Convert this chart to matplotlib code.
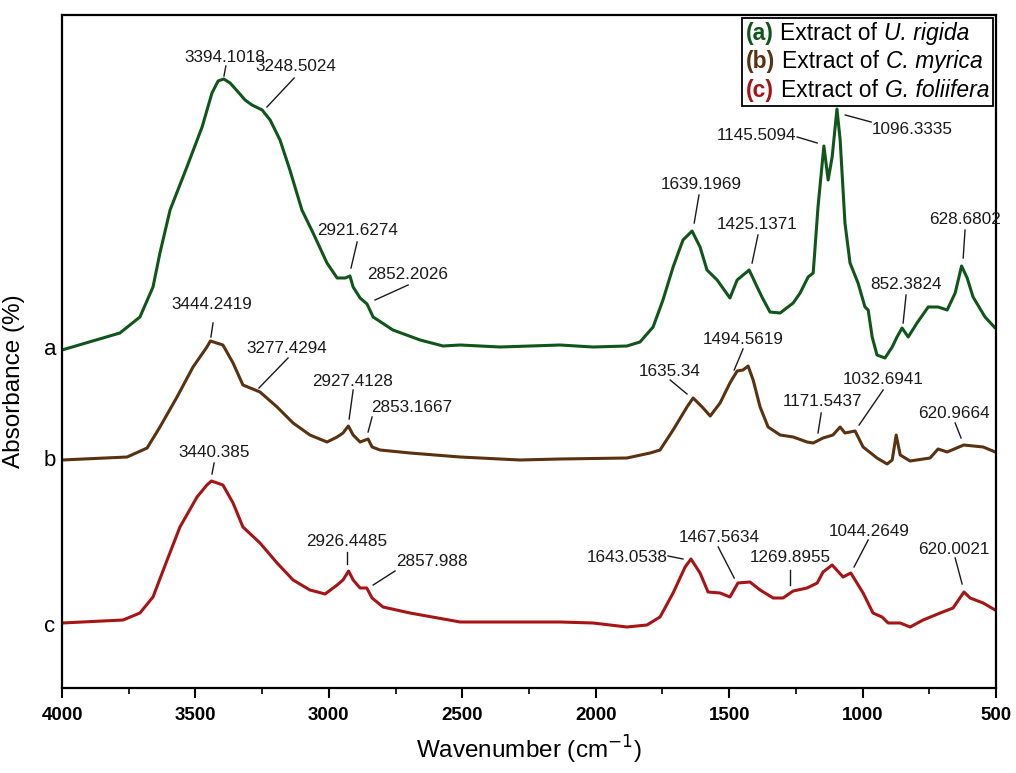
import matplotlib
matplotlib.use("Agg")
import matplotlib.pyplot as plt
from matplotlib.ticker import MultipleLocator
from matplotlib.offsetbox import TextArea, HPacker, VPacker, AnchoredOffsetbox
import matplotlib.transforms as mtransforms

plt.rcParams['font.family'] = ['Liberation Sans', 'DejaVu Sans']

# ---------------- data (wavenumber cm^-1, absorbance a.u. with offsets) ----------------
wn_a = [4000, 3783, 3708, 3659, 3633, 3595, 3532, 3475, 3438, 3415, 3394, 3370, 3340, 3314,
        3288, 3250, 3220, 3183, 3146, 3101, 3059, 3007, 2969, 2939, 2921, 2909, 2883, 2857,
        2834, 2760, 2658, 2572, 2508, 2358, 2134, 2010, 1883, 1834, 1785, 1748, 1710, 1673,
        1639, 1609, 1583, 1545, 1497, 1470, 1425, 1395, 1377, 1347, 1309, 1260, 1234, 1204,
        1185, 1167, 1145, 1129, 1114, 1096, 1084, 1066, 1047, 1017, 991, 979, 964, 946, 916,
        889, 871, 852, 829, 796, 754, 717, 683, 653, 629, 608, 586, 541, 503]
ab_a = [3.38, 3.55, 3.71, 4.01, 4.35, 4.78, 5.21, 5.61, 5.95, 6.07, 6.09, 6.05, 5.96, 5.88,
        5.83, 5.78, 5.68, 5.48, 5.18, 4.78, 4.55, 4.25, 4.10, 4.10, 4.12, 4.01, 3.90, 3.84,
        3.71, 3.58, 3.48, 3.42, 3.43, 3.41, 3.43, 3.41, 3.42, 3.46, 3.61, 3.88, 4.21, 4.48,
        4.57, 4.41, 4.18, 4.08, 3.90, 4.08, 4.18, 4.01, 3.91, 3.76, 3.75, 3.85, 3.95, 4.11,
        4.15, 4.81, 5.42, 5.08, 5.31, 5.79, 5.48, 4.65, 4.25, 4.05, 3.81, 3.78, 3.51, 3.33, 3.30,
        3.41, 3.51, 3.60, 3.51, 3.65, 3.81, 3.81, 3.78, 3.95, 4.22, 4.10, 3.91, 3.71, 3.60]

wn_b = [4000, 3756, 3681, 3633, 3569, 3509, 3457, 3444, 3397, 3359, 3322, 3258, 3194, 3134,
        3071, 3007, 2969, 2947, 2927, 2909, 2883, 2853, 2838, 2808, 2696, 2508, 2284, 2134,
        1883, 1796, 1759, 1710, 1658, 1635, 1601, 1571, 1534, 1497, 1470, 1448, 1429, 1410,
        1384, 1354, 1309, 1260, 1208, 1185, 1148, 1111, 1084, 1066, 1028, 998, 946, 908, 889,
        874, 859, 822, 747, 717, 683, 621, 548, 503]
ab_b = [2.28, 2.31, 2.40, 2.61, 2.91, 3.21, 3.41, 3.47, 3.43, 3.25, 3.03, 2.96, 2.81, 2.65,
        2.53, 2.46, 2.51, 2.55, 2.62, 2.53, 2.46, 2.49, 2.41, 2.38, 2.35, 2.31, 2.28, 2.29,
        2.30, 2.35, 2.38, 2.58, 2.81, 2.90, 2.81, 2.72, 2.85, 3.05, 3.17, 3.18, 3.22, 3.08,
        2.81, 2.61, 2.53, 2.51, 2.46, 2.45, 2.50, 2.53, 2.61, 2.55, 2.57, 2.41, 2.30, 2.24, 2.28,
        2.53, 2.33, 2.27, 2.30, 2.39, 2.36, 2.43, 2.41, 2.36]

wn_c = [4000, 3771, 3708, 3659, 3606, 3558, 3494, 3457, 3440, 3397, 3359, 3322, 3258, 3194,
        3134, 3071, 3014, 2969, 2947, 2926, 2909, 2883, 2858, 2838, 2797, 2696, 2508, 2134,
        2010, 1883, 1808, 1759, 1710, 1665, 1643, 1609, 1579, 1534, 1497, 1467, 1422, 1384,
        1335, 1298, 1260, 1208, 1170, 1148, 1114, 1073, 1044, 998, 961, 927, 904, 859, 822,
        773, 709, 661, 620, 597, 548, 503]
ab_c = [0.65, 0.68, 0.75, 0.91, 1.28, 1.61, 1.91, 2.03, 2.07, 2.03, 1.85, 1.61, 1.45, 1.25,
        1.08, 0.98, 0.94, 1.03, 1.08, 1.17, 1.08, 1.00, 1.00, 0.90, 0.81, 0.75, 0.66, 0.66,
        0.65, 0.61, 0.63, 0.71, 0.95, 1.21, 1.29, 1.15, 0.96, 0.95, 0.91, 1.05, 1.06, 0.98,
        0.90, 0.90, 0.97, 1.00, 1.05, 1.16, 1.23, 1.11, 1.15, 0.95, 0.75, 0.71, 0.65, 0.65, 0.61,
        0.68, 0.75, 0.80, 0.96, 0.90, 0.85, 0.78]

series_letters = ["a", "b", "c"]
series_names = ["U. rigida", "C. myrica", "G. foliifera"]
series_colors = ["#10561a", "#5a3210", "#a81414"]
baselines = [3.38, 2.27, 0.62]

# peak labels
peak_labels_a = ["3394.1018", "3248.5024", "2921.6274", "2852.2026", "1639.1969",
                 "1425.1371", "1145.5094", "1096.3335", "852.3824", "628.6802"]
peak_labels_b = ["3444.2419", "3277.4294", "2927.4128", "2853.1667", "1635.34",
                 "1494.5619", "1171.5437", "1032.6941", "620.9664"]
peak_labels_c = ["3440.385", "2926.4485", "2857.988", "1643.0538", "1467.5634",
                 "1269.8955", "1044.2649", "620.0021"]

# layout of annotations (text centre, leader line start, leader line end) in (wn, abs)
layout_a = [((3390, 6.30), (3386, 6.22), (3393, 6.12)),
            ((3125, 6.21), (3130, 6.10), (3232, 5.81)),
            ((2894, 4.57), (2894, 4.46), (2917, 4.20)),
            ((2703, 4.13), (2703, 4.03), (2827, 3.88)),
            ((1605, 5.03), (1613, 4.93), (1631, 4.65)),
            ((1395, 4.63), (1392, 4.53), (1414, 4.25)),
            ((1399, 5.52), (1245, 5.51), (1170, 5.45)),
            ((814, 5.58), (1065, 5.73), (968, 5.66)),
            ((837, 4.03), (837, 3.93), (848, 3.65)),
            ((616, 4.68), (616, 4.58), (623, 4.30))]
layout_b = [((3438, 3.83), (3434, 3.65), (3442, 3.51)),
            ((3157, 3.39), (3153, 3.30), (3262, 3.00)),
            ((2913, 3.07), (2909, 2.98), (2924, 2.69)),
            ((2688, 2.80), (2838, 2.71), (2853, 2.56)),
            ((1721, 3.16), (1721, 3.08), (1658, 2.94)),
            ((1448, 3.48), (1448, 3.39), (1481, 3.18)),
            ((1152, 2.86), (1155, 2.75), (1167, 2.55)),
            ((923, 3.08), (923, 2.98), (1013, 2.63)),
            ((657, 2.74), (653, 2.65), (631, 2.50))]
layout_c = [((3430, 2.35), (3430, 2.25), (3438, 2.14)),
            ((2932, 1.46), (2932, 1.36), (2932, 1.24)),
            ((2613, 1.27), (2752, 1.17), (2834, 1.03)),
            ((1882, 1.31), (1729, 1.32), (1673, 1.29)),
            ((1538, 1.51), (1541, 1.41), (1481, 1.10)),
            ((1271, 1.30), (1271, 1.18), (1271, 1.03)),
            ((975, 1.57), (979, 1.48), (1032, 1.21)),
            ((657, 1.39), (653, 1.30), (627, 1.04))]

# ---------------- figure ----------------
fig = plt.figure(figsize=(10.16, 7.73), dpi=100)
ax = fig.add_axes([62 / 1016, 1 - 688 / 773, (996 - 62) / 1016, (688 - 15) / 773])

for wn, ab, col in zip([wn_a, wn_b, wn_c], [ab_a, ab_b, ab_c], series_colors):
    ax.plot(wn, ab, color=col, lw=2.2, solid_joinstyle='round', solid_capstyle='round')

for labels, layout in [(peak_labels_a, layout_a), (peak_labels_b, layout_b), (peak_labels_c, layout_c)]:
    for lab, (tp, l0, l1) in zip(labels, layout):
        ax.text(tp[0], tp[1], lab, ha='center', va='center', fontsize=12.3, color='#1a1a1a')
        ax.plot([l0[0], l1[0]], [l0[1], l1[1]], color='#1a1a1a', lw=1.0)

ax.set_xlim(4000, 500)
ax.set_ylim(0, 6.73)
ax.xaxis.set_major_locator(MultipleLocator(500))
ax.xaxis.set_minor_locator(MultipleLocator(250))
ax.set_yticks([])
ax.tick_params(axis='x', which='major', direction='out', length=7, width=1.5, pad=7,
               labelsize=13.5)
ax.tick_params(axis='x', which='minor', direction='out', length=4, width=1.2)
for lbl in ax.get_xticklabels():
    lbl.set_fontweight('bold')
for sp in ax.spines.values():
    sp.set_linewidth(1.6)

ax.set_xlabel(r'Wavenumber (cm$^{-1}$)', fontsize=17.5, labelpad=7)
ax.set_ylabel('Absorbance (%)', fontsize=17.5)
ax.yaxis.set_label_coords(-0.040, 0.456)

trans = mtransforms.blended_transform_factory(ax.transAxes, ax.transData)
for letter, base in zip(series_letters, baselines):
    ax.text(-0.013, base, letter, transform=trans, ha='center', va='center', fontsize=16)

# legend
rows = []
for letter, name, col in zip(series_letters, series_names, series_colors):
    rows.append(HPacker(children=[
        TextArea("(%s)" % letter, textprops=dict(color=col, fontweight='bold', fontsize=16.5)),
        TextArea("Extract of", textprops=dict(color='black', fontsize=16.5)),
        TextArea(name, textprops=dict(color='black', fontsize=16.5, style='italic')),
    ], sep=5, pad=0, align='baseline'))
box = VPacker(children=rows, sep=4, pad=0, align='left')
anch = AnchoredOffsetbox(loc='upper right', child=box, pad=0.3, borderpad=0.2, frameon=True)
anch.patch.set_edgecolor('black')
anch.patch.set_linewidth(1.3)
anch.patch.set_boxstyle('square', pad=0)
ax.add_artist(anch)

fig.savefig('out.png', dpi=100)
